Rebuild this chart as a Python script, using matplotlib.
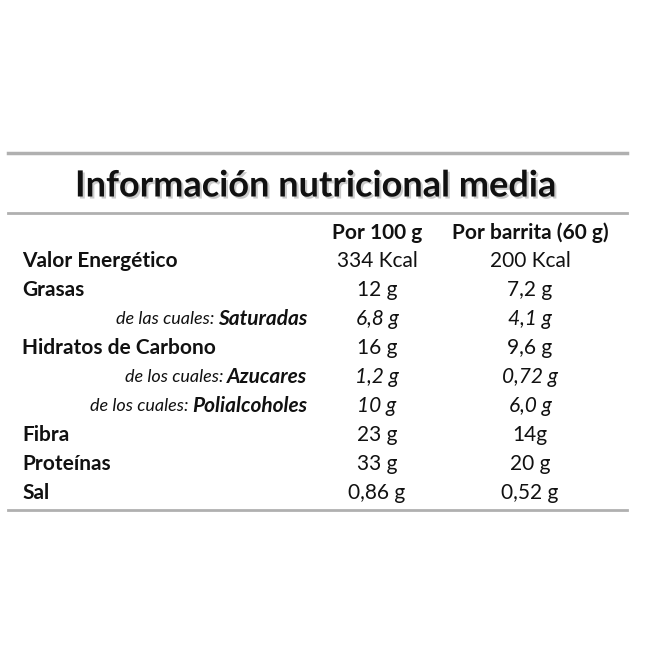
import matplotlib
matplotlib.use("Agg")
import matplotlib.pyplot as plt
import matplotlib.patheffects as pe

plt.rcParams["font.family"] = ["Lato", "DejaVu Sans"]

TITLE = "Información nutricional media"
HEADERS = ["Por 100 g", "Por barrita (60 g)"]
# (prefix in small italic, name)
ROWS = [("", "Valor Energético"), ("", "Grasas"), ("de las cuales: ", "Saturadas"),
        ("", "Hidratos de Carbono"), ("de los cuales: ", "Azucares"),
        ("de los cuales: ", "Polialcoholes"), ("", "Fibra"), ("", "Proteínas"), ("", "Sal")]
PER100 = ["334 Kcal", "12 g", "6,8 g", "16 g", "1,2 g", "10 g", "23 g", "33 g", "0,86 g"]
PERBAR = ["200 Kcal", "7,2 g", "4,1 g", "9,6 g", "0,72 g", "6,0 g", "14g", "20 g", "0,52 g"]

W = H = 654
fig = plt.figure(figsize=(6.54, 6.54), dpi=100)
ax = fig.add_axes([0, 0, 1, 1])
ax.set_xlim(0, W); ax.set_ylim(H, 0); ax.axis("off")

line_c = "#b0b0b0"
ax.plot([8, 627], [153, 153], color=line_c, lw=2.5)
ax.plot([8, 627], [213, 213], color=line_c, lw=2)
ax.plot([8, 627], [510, 510], color=line_c, lw=2)

ax.text(316, 186, TITLE, ha="center", va="center", fontsize=26, fontweight="bold",
        color="#111111",
        path_effects=[pe.SimplePatchShadow(offset=(1.5, -1.5), shadow_rgbFace="#999999", alpha=0.5),
                      pe.Normal()])

FS = 15
col_x = [377, 530]
for x, h in zip(col_x, HEADERS):
    ax.text(x, 233, h, ha="center", va="center", fontsize=FS, fontweight="bold", color="#111")

y0, dy = 261, 29
for i, ((pre, name), a, b) in enumerate(zip(ROWS, PER100, PERBAR)):
    y = y0 + i * dy
    italic = bool(pre)
    if pre:
        t = ax.text(307, y, name, ha="right", va="center", fontsize=FS,
                    fontweight="bold", style="italic", color="#111")
        fig.canvas.draw()
        bb = t.get_window_extent().transformed(ax.transData.inverted())
        ax.text(bb.x0 - 3, y, pre.strip(), ha="right", va="center", fontsize=13,
                style="italic", color="#111")
    else:
        ax.text(22, y, name, ha="left", va="center", fontsize=FS, fontweight="bold", color="#111")
    st = "italic" if italic else "normal"
    ax.text(col_x[0], y, a, ha="center", va="center", fontsize=FS, style=st, color="#111")
    ax.text(col_x[1], y, b, ha="center", va="center", fontsize=FS, style=st, color="#111")

fig.savefig("out.png", dpi=100, facecolor="white")
